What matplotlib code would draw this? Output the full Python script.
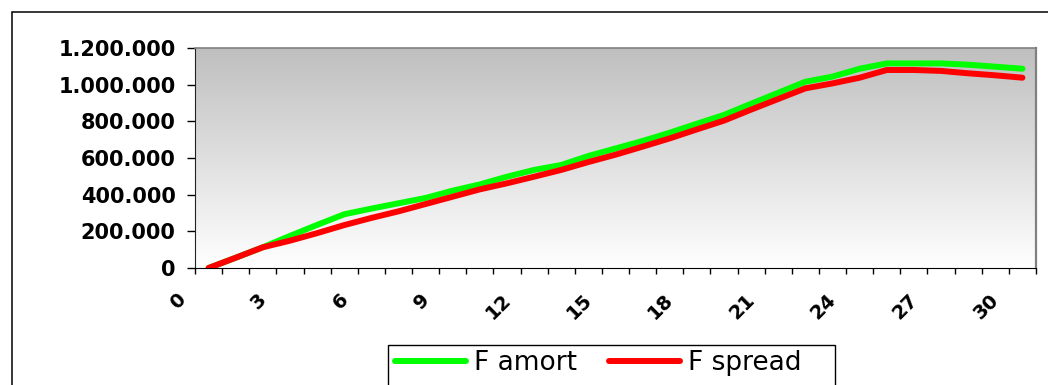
import numpy as np
import matplotlib
matplotlib.use('Agg')
import matplotlib.pyplot as plt
from matplotlib.ticker import FuncFormatter
from matplotlib.transforms import ScaledTranslation

periods = list(range(31))
f_amort = [0, 56000, 113000, 175000, 235000, 293000, 324000, 353000, 382000, 422000,
           456000, 498000, 535000, 562000, 611000, 652000, 693000, 738000, 787000, 835000,
           896000, 956000, 1016000, 1044000, 1087000, 1116000, 1116000, 1116000, 1109000,
           1098000, 1087000]
f_spread = [0, 56000, 113000, 149000, 190000, 234000, 273000, 309000, 349000, 389000,
            429000, 462000, 498000, 535000, 578000, 618000, 662000, 707000, 756000, 804000,
            864000, 922000, 980000, 1007000, 1038000, 1080000, 1080000, 1075000, 1062000,
            1051000, 1038000]
x_labels = list(range(0, 31, 3))
y_ticks = [0, 200000, 400000, 600000, 800000, 1000000, 1200000]

W, H = 1048, 385
fig = plt.figure(figsize=(W / 100, H / 100), dpi=100)
ax = fig.add_axes([195 / W, 1 - 268 / H, (1036 - 195) / W, (268 - 48) / H])

# grey-to-white fill behind the lines
grad = np.linspace(0, 1, 256).reshape(-1, 1)
ax.imshow(grad, extent=[-0.5, 30.5, 0, 1200000], aspect='auto', origin='upper',
          cmap=matplotlib.colors.LinearSegmentedColormap.from_list('bg', ['#bfbfbf', '#ffffff']),
          zorder=0)

ax.plot(periods, f_amort, color='#00ff00', lw=4.3, solid_capstyle='round',
        solid_joinstyle='round', label='F amort', zorder=2)
ax.plot(periods, f_spread, color='#ff0000', lw=4.3, solid_capstyle='round',
        solid_joinstyle='round', label='F spread', zorder=3)

ax.set_xlim(-0.5, 30.5)
ax.set_ylim(0, 1200000)

ax.set_yticks(y_ticks)
ax.yaxis.set_major_formatter(FuncFormatter(lambda v, p: f'{int(v):,}'.replace(',', '.')))

ax.set_xticks([k - 0.5 for k in x_labels])
ax.set_xticklabels([str(k) for k in x_labels])
ax.set_xticks([k - 0.5 for k in range(32) if k not in x_labels], minor=True)

ax.tick_params(axis='y', length=6, width=1, pad=8, labelsize=15, direction='out')
ax.tick_params(axis='x', which='both', length=4, width=1, direction='out')
ax.tick_params(axis='x', which='major', pad=12, labelsize=14)
for t in ax.get_yticklabels():
    t.set_fontweight('bold')
shift = ScaledTranslation(-6 / 100, 0, fig.dpi_scale_trans)
for t in ax.get_xticklabels():
    t.set_fontweight('bold')
    t.set_rotation(45)
    t.set_ha('right')
    t.set_va('top')
    t.set_transform(t.get_transform() + shift)

ax.spines['top'].set_color('#808080')
ax.spines['top'].set_linewidth(1.2)
ax.spines['right'].set_color('#808080')
ax.spines['right'].set_linewidth(1.6)
ax.spines['left'].set_color('#222222')
ax.spines['bottom'].set_color('black')

# chart area border and legend box
fig.add_artist(plt.Rectangle((11.5 / W, -0.2), 1.2, 1 - 11.7 / H + 0.2, transform=fig.transFigure,
                             fill=False, ec='black', lw=1.1))
fig.add_artist(plt.Rectangle((388 / W, -0.2), (835 - 388) / W, (385 - 345) / H + 0.2,
                             transform=fig.transFigure, fill=False, ec='black', lw=1.0))
fig.legend(loc='center', bbox_to_anchor=(598 / W, 1 - 363 / H), ncol=2, frameon=False,
           fontsize=19, handlelength=2.7, handletextpad=0.3, columnspacing=1.2)

fig.savefig('out.png', dpi=100, facecolor='white')
